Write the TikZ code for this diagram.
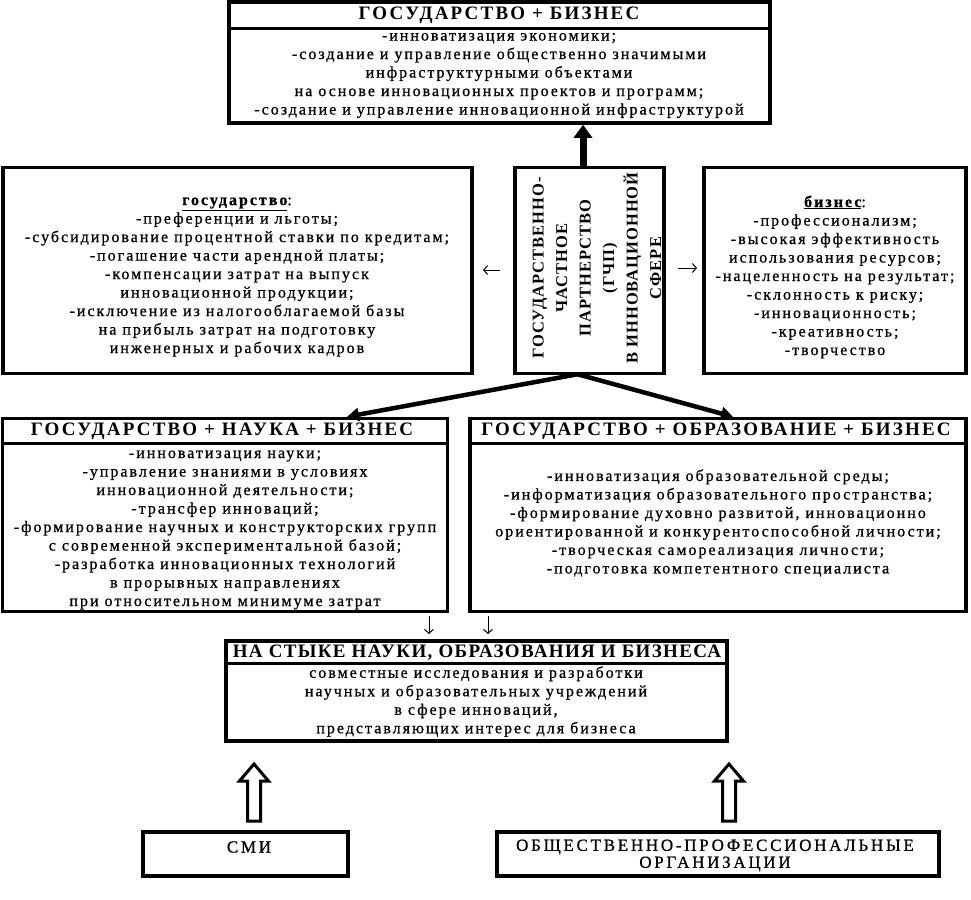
\documentclass[tikz,border=0pt]{standalone}
\usepackage{fontspec}
\setmainfont{Liberation Serif}
\newfontfamily\titlefont[LetterSpace=11.5]{Liberation Serif}
\newfontfamily\jtitlefont[LetterSpace=7]{Liberation Serif}
\newfontfamily\bodyfont[LetterSpace=12.5,FakeBold=0.8]{Liberation Serif}
\newfontfamily\vertfont[LetterSpace=6]{Liberation Serif}
\newfontfamily\lowfont[LetterSpace=16,FakeBold=0.8]{Liberation Serif}
\usetikzlibrary{arrows.meta}
\tikzset{
  frame/.style={draw, line width=3.5pt, rectangle, inner sep=0pt},
  divider/.style={line width=3pt},
  ttl/.style={font=\titlefont\bfseries\fontsize{19}{20}\selectfont, inner sep=0pt},
  jttl/.style={font=\jtitlefont\bfseries\fontsize{19}{20}\selectfont, inner sep=0pt},
  body/.style={font=\bodyfont\fontsize{16}{18.5}\selectfont, align=center, inner sep=0pt},
  vert/.style={font=\vertfont\bfseries\fontsize{16.5}{23.5}\selectfont, align=center, inner sep=0pt, rotate=90},
  low/.style={font=\lowfont\fontsize{17}{17}\selectfont, align=center, inner sep=0pt},
  bigarrow/.style={line width=7pt, -{Triangle[width=18pt,length=13pt]}},
  fanarrow/.style={line width=4.5pt, -{Triangle[width=13pt,length=12pt]}},
  thinarrow/.style={line width=1pt, -{Straight Barb[length=4pt,width=9pt]}},
  hollow/.style={line width=3pt, line join=miter, fill=white}
}
\begin{document}
\begin{tikzpicture}[x=1pt,y=-1pt]
\useasboundingbox[fill=white] (0,0) rectangle (971,899);

% ---------- top box ----------
\node[frame, minimum width=541pt, minimum height=121pt] (top) at (499.5,62.5) {};
\draw[divider] (top.west |- 0,29) -- (top.east |- 0,29);
\node[ttl] (toptitle) at (499,15.5) {ГОСУДАРСТВО + БИЗНЕС};
\node[body] (topbody) at (499,75.5) {-инноватизация экономики;\\
-создание и управление общественно значимыми\\
инфраструктурными объектами\\
на основе инновационных проектов и программ;\\
-создание и управление инновационной инфраструктурой};

% ---------- middle row ----------
\node[frame, minimum width=469pt, minimum height=206pt] (gov) at (237.5,270.5) {};
\node[body] (govtext) at (237,277) {{\bfseries\underline{государство}}:\\
-преференции и льготы;\\
-субсидирование процентной ставки по кредитам;\\
-погашение части арендной платы;\\
-компенсации затрат на выпуск\\
инновационной продукции;\\
-исключение из налогооблагаемой базы\\
на прибыль затрат на подготовку\\
инженерных и рабочих кадров};

\node[frame, minimum width=149pt, minimum height=206pt] (mid) at (589.5,270.5) {};
\node[vert] (midtext) at (597,268) {ГОСУДАРСТВЕННО-\\ЧАСТНОЕ\\ПАРТНЕРСТВО\\(ГЧП)\\В ИННОВАЦИОННОЙ\\СФЕРЕ};

\node[frame, minimum width=262pt, minimum height=206pt] (bus) at (835,270.5) {};
\node[body] (bustext) at (835,277) {{\bfseries\underline{бизнес}}:\\
-профессионализм;\\
-высокая эффективность\\
использования ресурсов;\\
-нацеленность на результат;\\
-склонность к риску;\\
-инновационность;\\
-креативность;\\
-творчество};

% ---------- lower row ----------
\node[frame, minimum width=445pt, minimum height=193pt] (sci) at (225,515) {};
\draw[divider] (sci.west |- 0,443) -- (sci.east |- 0,443);
\node[ttl] (scititle) at (222,431) {ГОСУДАРСТВО + НАУКА + БИЗНЕС};
\node[body] (scibody) at (225,530) {-инноватизация науки;\\
-управление знаниями в условиях\\
инновационной деятельности;\\
-трансфер инноваций;\\
-формирование научных и конструкторских групп\\
с современной экспериментальной базой;\\
-разработка инновационных технологий\\
в прорывных направлениях\\
при относительном минимуме затрат};

\node[frame, minimum width=496pt, minimum height=193pt] (edu) at (718,515) {};
\draw[divider] (edu.west |- 0,443) -- (edu.east |- 0,443);
\node[ttl] (edutitle) at (716,431) {ГОСУДАРСТВО + ОБРАЗОВАНИЕ + БИЗНЕС};
\node[body] (edubody) at (718,523) {-инноватизация образовательной среды;\\
-информатизация образовательного пространства;\\
-формирование духовно развитой, инновационно\\
ориентированной и конкурентоспособной личности;\\
-творческая самореализация личности;\\
-подготовка компетентного специалиста};

% ---------- junction box ----------
\node[frame, minimum width=501pt, minimum height=100pt] (join) at (476.5,691) {};
\draw[divider] (join.west |- 0,663) -- (join.east |- 0,663);
\node[jttl] (jointitle) at (477,652.5) {НА СТЫКЕ НАУКИ, ОБРАЗОВАНИЯ И БИЗНЕСА};
\node[body] (joinbody) at (476,701.5) {совместные исследования и разработки\\
научных и образовательных учреждений\\
в сфере инноваций,\\
представляющих интерес для бизнеса};

% ---------- bottom boxes ----------
\node[frame, minimum width=205pt, minimum height=44pt] (smi) at (245.5,854) {};
\node[low] (smitext) at (249,847) {СМИ};
\node[frame, minimum width=442pt, minimum height=44pt] (org) at (718,854) {};
\node[low] (orgtext) at (715,855.5) {ОБЩЕСТВЕННО-ПРОФЕССИОНАЛЬНЫЕ\\ОРГАНИЗАЦИИ};

% ---------- connectors ----------
\draw[bigarrow] ([xshift=-6.5pt]mid.north) -- ([xshift=-6.5pt]mid.north |- top.south);
\coordinate (apex) at ([xshift=-12pt,yshift=1pt]mid.south);
\draw[fanarrow] (apex) -- ([xshift=122pt]sci.north);
\draw[fanarrow] (apex) -- ([xshift=15pt]edu.north);

\coordinate (la1) at (500,270); \coordinate (la2) at (483,270);
\draw[thinarrow] (la1) -- (la2);
\coordinate (ra1) at (678,268); \coordinate (ra2) at (697,268);
\draw[thinarrow] (ra1) -- (ra2);
\coordinate (da1) at (429,616); \coordinate (da2) at (429,634);
\draw[thinarrow] (da1) -- (da2);
\coordinate (db1) at (488,616); \coordinate (db2) at (488,634);
\draw[thinarrow] (db1) -- (db2);

\coordinate (h1) at (254,821);
\draw[hollow] (h1) ++(-6.5,0) -- ++(0,-40) -- ++(-8,0) -- ++(14.5,-17) -- ++(14.5,17) -- ++(-8,0) -- ++(0,40) -- cycle;
\coordinate (h2) at (729,821);
\draw[hollow] (h2) ++(-6.5,0) -- ++(0,-40) -- ++(-8,0) -- ++(14.5,-17) -- ++(14.5,17) -- ++(-8,0) -- ++(0,40) -- cycle;
\end{tikzpicture}
\end{document}
